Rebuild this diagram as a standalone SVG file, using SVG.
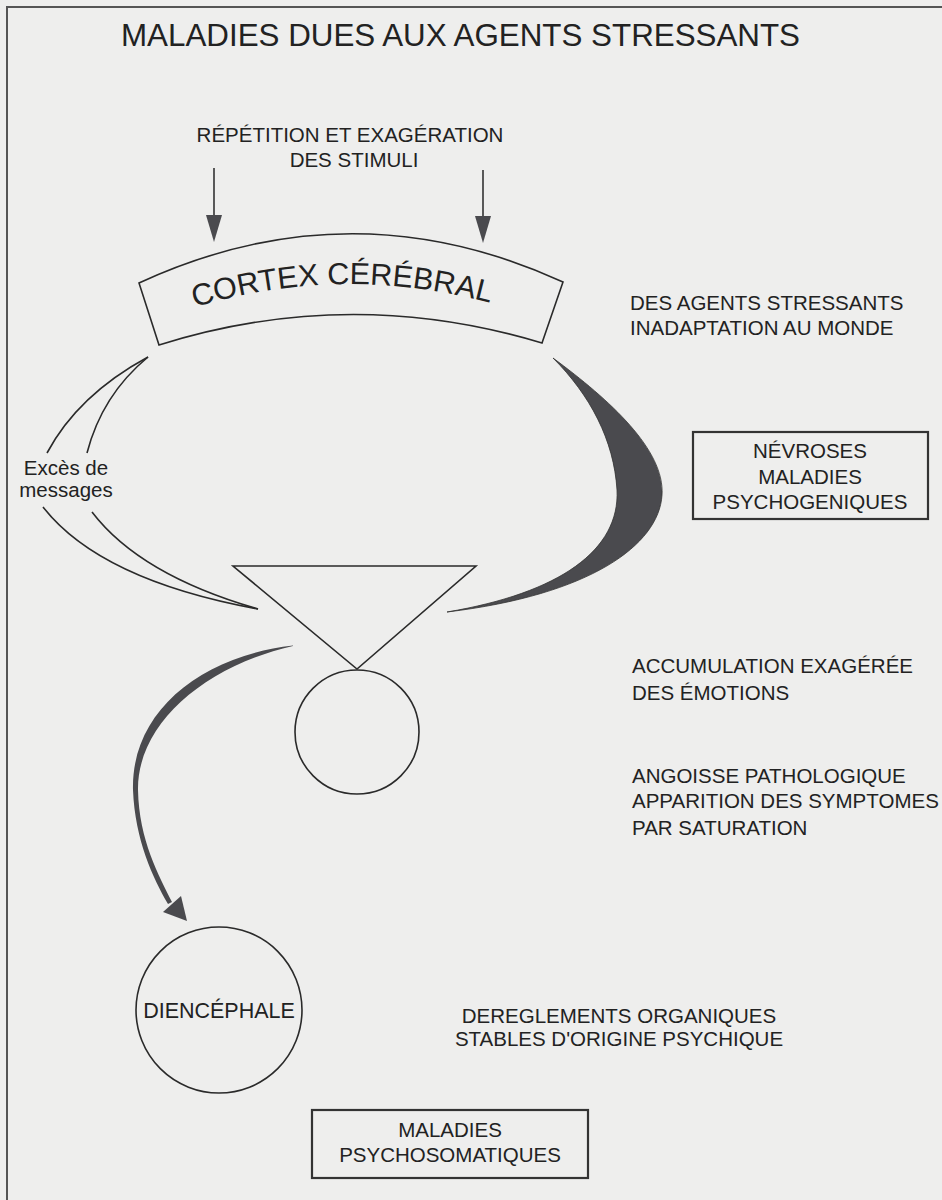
<svg xmlns="http://www.w3.org/2000/svg" width="942" height="1200" viewBox="0 0 942 1200">
<style>
.t{font-family:"Liberation Sans",Arial,sans-serif;font-size:20.5px;fill:#222}
.c{text-anchor:middle}
.ln{fill:none;stroke:#2a2a2a;stroke-width:1.6}
.box{fill:none;stroke:#333;stroke-width:2.2}
.head{fill:#4a4a4e}
</style>
<defs>
<path id="arc" d="M180,312 Q340,259 505,307"/>
</defs>
<rect width="942" height="1200" fill="#eeeeed"/>
<path d="M7,1200 V7 H942" fill="none" stroke="#555" stroke-width="2"/>
<text class="t" x="121" y="46" style="font-size:32px" textLength="679" lengthAdjust="spacingAndGlyphs">MALADIES DUES AUX AGENTS STRESSANTS</text>
<text class="t c" x="350" y="142">RÉPÉTITION ET EXAGÉRATION</text>
<text class="t c" x="354" y="167">DES STIMULI</text>
<g id="connectors">
<line x1="214" y1="168" x2="214" y2="218" stroke="#333" stroke-width="1.6"/>
<polygon class="head" points="206,215 222,215 214,242"/>
<line x1="483" y1="170" x2="483" y2="219" stroke="#333" stroke-width="1.6"/>
<polygon class="head" points="475,216 491,216 483,243"/>
<path class="ln" d="M148,357 Q78,395 47,453"/>
<path class="ln" d="M148,357 Q102,395 87,453"/>
<path class="ln" d="M43,507 Q100,580 258,609"/>
<path class="ln" d="M92,512 Q140,575 258,609"/>
<path d="M553,358 C610,400 665,450 662,495 C659,545 590,595 447,612 C560,593 620,550 617,490 C614,440 590,395 553,358 Z" fill="#4a4a4e" stroke="#333" stroke-width="0.8"/>
<path d="M293,645.5 C200,656 131,712 133,790 C135,840 153,878 168,904 L172,902 C159,876 139,840 138,790 C137,724 205,666 293,646 Z" fill="#4a4a4e"/>
<polygon class="head" points="163,912 181,896 187,921"/>
</g>
<g id="cortex">
<path class="ln" d="M139,283 Q351,185 563,282 L542,343 Q350,285 159,345 Z"/>
<text class="t" style="font-size:30.5px"><textPath href="#arc" startOffset="50%" text-anchor="middle">CORTEX CÉRÉBRAL</textPath></text>
</g>
<g id="excess">
<text class="t c" x="66" y="475">Excès de</text>
<text class="t c" x="66" y="497">messages</text>
</g>
<g id="funnel">
<polygon class="ln" points="233,566 476,566 357,669"/>
<circle class="ln" cx="357" cy="732" r="62"/>
</g>
<g id="agents">
<text class="t" x="630" y="310">DES AGENTS STRESSANTS</text>
<text class="t" x="630" y="335">INADAPTATION AU MONDE</text>
</g>
<g id="nevroses">
<rect class="box" x="693" y="432" width="235" height="87"/>
<text class="t c" x="810" y="458">NÉVROSES</text>
<text class="t c" x="810" y="484">MALADIES</text>
<text class="t c" x="810" y="509">PSYCHOGENIQUES</text>
</g>
<g id="accumulation">
<text class="t" x="632" y="673">ACCUMULATION EXAGÉRÉE</text>
<text class="t" x="632" y="700">DES ÉMOTIONS</text>
</g>
<g id="angoisse">
<text class="t" x="632" y="783">ANGOISSE PATHOLOGIQUE</text>
<text class="t" x="632" y="808">APPARITION DES SYMPTOMES</text>
<text class="t" x="632" y="835">PAR SATURATION</text>
</g>
<g id="diencephale">
<circle class="ln" cx="219" cy="1010" r="83"/>
<text class="t c" x="219" y="1018" style="font-size:21.5px">DIENCÉPHALE</text>
</g>
<g id="dereglements">
<text class="t c" x="619" y="1023">DEREGLEMENTS ORGANIQUES</text>
<text class="t c" x="619" y="1046">STABLES D'ORIGINE PSYCHIQUE</text>
</g>
<g id="psychosomatiques">
<rect class="box" x="312" y="1110" width="276" height="68"/>
<text class="t c" x="450" y="1137">MALADIES</text>
<text class="t c" x="450" y="1162">PSYCHOSOMATIQUES</text>
</g>
</svg>
